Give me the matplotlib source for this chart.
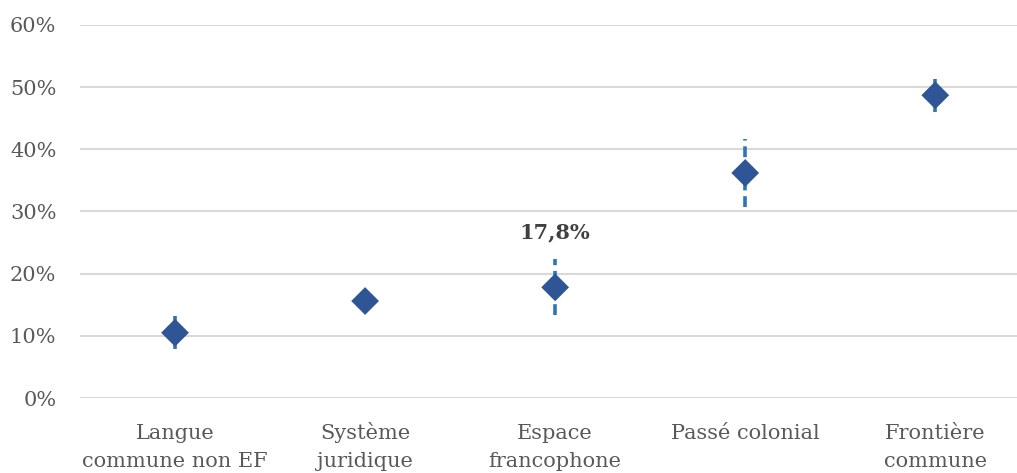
import matplotlib
matplotlib.use("Agg")
import matplotlib.pyplot as plt

categories = ["Langue\ncommune non EF", "Système\njuridique", "Espace\nfrancophone",
              "Passé colonial", "Frontière\ncommune"]
values = [10.5, 15.6, 17.8, 36.2, 48.7]
err_low = [7.9, 15.6, 13.4, 30.7, 46.0]
err_high = [13.2, 15.6, 22.4, 41.6, 51.3]
err_styles = ["-", "-", (0, (3, 1.6)), (0, (3, 1.6)), "-"]
yticks = [0, 10, 20, 30, 40, 50, 60]

plt.rcParams["font.family"] = ["DejaVu Serif"]
grey = "#595959"

fig = plt.figure(figsize=(10.17, 4.73), dpi=100)
ax = fig.add_axes([80 / 1017, 75 / 473, 1 - 80 / 1017, 373 / 473])

x = range(len(categories))
for i in x:
    if err_high[i] > err_low[i]:
        ax.vlines(i, err_low[i], err_high[i], color="#2E75B6", lw=2.6,
                  linestyles=err_styles[i], zorder=2)
ax.scatter(list(x), values, marker="D", s=200, color="#2F5597", zorder=3,
           edgecolors="none")

ax.text(2, 26.6, "17,8%", ha="center", va="center", fontsize=15,
        fontweight="bold", color="#404040")

ax.set_ylim(0, 60)
ax.set_xlim(-0.5, 4.43)
ax.set_yticks(yticks)
ax.set_yticklabels([f"{t}%" for t in yticks], fontsize=15, color=grey)
ax.set_xticks(list(x))
# baseline = last line, so pad single-line labels with an empty line
labels = [c if "\n" in c else c + "\n " for c in categories]
ax.set_xticklabels(labels, fontsize=15, color=grey, linespacing=1.6,
                   va="baseline")
ax.tick_params(axis="both", length=0)
ax.tick_params(axis="y", pad=17)
ax.tick_params(axis="x", pad=50)
ax.grid(axis="y", color="#D9D9D9", lw=1.5)
ax.set_axisbelow(True)
for s in ax.spines.values():
    s.set_visible(False)

fig.savefig("out.png", dpi=100)
